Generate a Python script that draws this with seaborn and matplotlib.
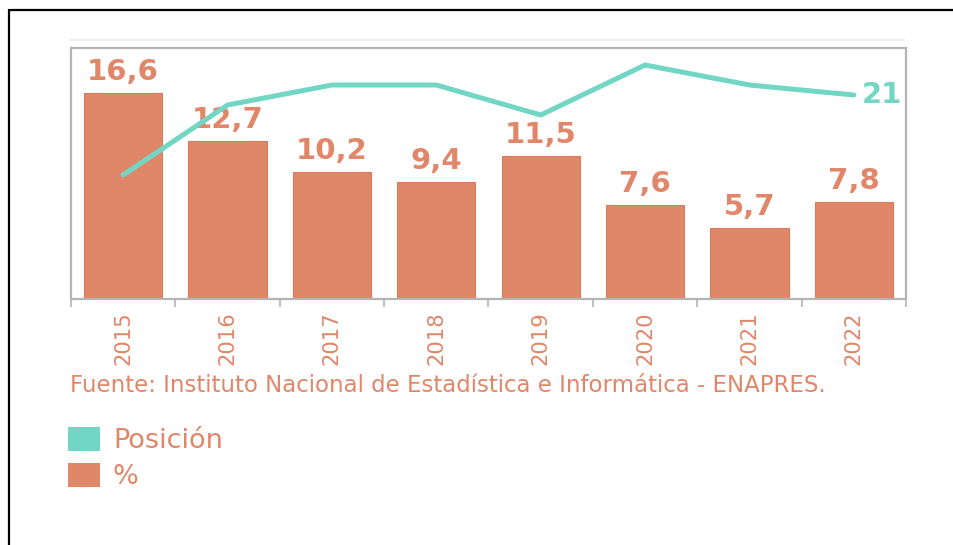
import matplotlib
matplotlib.use('Agg')
import matplotlib.pyplot as plt
import seaborn as sns
import numpy as np
import pandas as pd
from matplotlib.patches import Patch
from matplotlib.lines import Line2D
from matplotlib.ticker import FixedLocator

years = ['2015', '2016', '2017', '2018', '2019', '2020', '2021', '2022']
pct = [16.6, 12.7, 10.2, 9.4, 11.5, 7.6, 5.7, 7.8]
posicion = [13, 20, 22, 22, 19, 24, 22, 21]
source = 'Fuente: Instituto Nacional de Estadística e Informática - ENAPRES.'
legend_labels = ['Posición', '%']

BAR = '#E0876A'
TEAL = '#72D6C4'
TXT = '#E0876A'
GRID = '#B4B4B4'

sns.set_theme(style='white')
plt.rcParams['font.family'] = ['DejaVu Sans']

W, H = 954, 545
fig = plt.figure(figsize=(W / 100, H / 100), dpi=100)
ax = fig.add_axes([71 / W, 1 - 299 / H, (906 - 71) / W, (299 - 48) / H])

df = pd.DataFrame({'year': years, 'pct': pct, 'pos': posicion})
sns.barplot(data=df, x='year', y='pct', color=BAR, saturation=1, width=0.75,
            edgecolor='#D97B5D', linewidth=0.8, ax=ax)
ax.set_ylim(0, 20.2)
labels = [f'{v:.1f}'.replace('.', ',') for v in pct]
ax.bar_label(ax.containers[0], labels=labels, padding=5, color=TXT,
             fontsize=21, fontweight='bold')

ax2 = ax.twinx()
sns.lineplot(x=np.arange(len(years)), y=posicion, color=TEAL, lw=3.6, ax=ax2)
ax2.set_ylim(0.6, 25.7)
ax2.annotate(str(posicion[-1]), xy=(len(years) - 1, posicion[-1]), xytext=(6, 0),
             textcoords='offset points', va='center', ha='left', color=TEAL,
             fontsize=21, fontweight='bold')
ax.set_xlim(-0.5, len(years) - 0.5)

for a in (ax, ax2):
    a.set_yticks([])
    a.set_ylabel('')
    a.set_xlabel('')
    for s in a.spines.values():
        s.set_color(GRID)
        s.set_linewidth(1.5)

ax.set_xticks(np.arange(len(years)))
ax.set_xticklabels(years, rotation=90, color=TXT, fontsize=15.2)
ax.xaxis.set_minor_locator(FixedLocator(np.arange(len(years) + 1) - 0.5))
ax.tick_params(axis='x', which='major', length=0, pad=9)
ax.tick_params(axis='x', which='minor', length=6, width=1.2, color=GRID, bottom=True)

fig.text(70 / W, 1 - 386 / H, source, va='center', ha='left', fontsize=16.5, color=TXT)

handles = [Patch(facecolor=TEAL, edgecolor='none'), Patch(facecolor=BAR, edgecolor='none')]
fig.legend(handles=handles, labels=legend_labels, loc='upper left',
           bbox_to_anchor=(68 / W, 1 - 427 / H), frameon=False, fontsize=19.5,
           handlelength=1.18, handleheight=1.0, labelspacing=0.3, handletextpad=0.48,
           labelcolor=TXT, borderaxespad=0, borderpad=0)

fig.add_artist(Line2D([70 / W, 904 / W], [1 - 40 / H] * 2, color='#EFEFEF', lw=1.5))
fig.add_artist(Line2D([9.5 / W, 9.5 / W], [0, 1 - 9.5 / H], color='black', lw=1.6))
fig.add_artist(Line2D([9.5 / W, 1], [1 - 9.5 / H] * 2, color='black', lw=1.6))

fig.savefig('out.png', dpi=100)
